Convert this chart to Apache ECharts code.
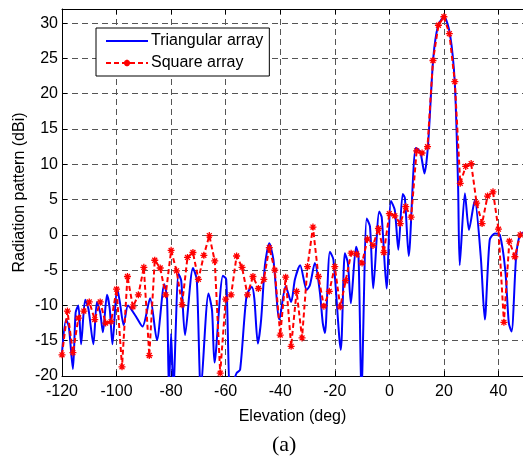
<!DOCTYPE html>
<html>
<head>
<meta charset="utf-8">
<script src="https://cdn.jsdelivr.net/npm/echarts@6/dist/echarts.min.js"></script>
<style>
  html, body { margin: 0; padding: 0; background: #fff; }
  #chart { width: 523px; height: 459px; }
</style>
</head>
<body>
<div id="chart"></div>
<script>
// square array, sampled every 2 deg
var sqAngles = [-120, -118, -116, -114, -112, -110, -108, -106, -104, -102,
  -100, -98, -96, -94, -92, -90, -88, -86, -84, -82,
  -80, -78, -76, -74, -72, -70, -68, -66, -64, -62,
  -60, -58, -56, -54, -52, -50, -48, -46, -44, -42,
  -40, -38, -36, -34, -32, -30, -28, -26, -24, -22,
  -20, -18, -16, -14, -12, -10, -8, -6, -4, -2,
  0, 2, 4, 6, 8, 10, 12, 14, 16, 18,
  20, 22, 24, 26, 28, 30, 32, 34, 36, 38,
  40, 42, 44, 46, 48, 50];
var sqValues = [-17, -10.8, -16.7, -11.8, -10.8, -9.5, -12, -9.5, -12.5, -12.3,
  -7.7, -18.7, -5.9, -10.2, -8.5, -4.6, -17.1, -3.6, -4.7, -8.5,
  -2.2, -5.1, -9.9, -3.2, -2.5, -6.3, -2.9, -0.1, -3.7, -19.6,
  -9.1, -8.5, -3, -4.6, -8.5, -5.9, -7.6, -6.3, -1.8, -5,
  -14.2, -6, -15.8, -8, -14.6, -4.5, 1.1, -5.9, -10.1, -8,
  -4.5, -10.2, -6.5, -2.6, -2.7, -4, -0.6, -1.5, 0.9, -2.5,
  3, 2.7, 1.6, 4, 2.5, 11.9, 11.6, 12.5, 24.7, 29.7,
  30.9, 28.5, 21.7, 7.3, 9.7, 10.1, 4.5, 1.6, 5.5, 6.1,
  0.8, -12.4, -0.9, -3.1, 0, -0.8];

// triangular array, read at its turning points
var triAngles = [-120, -118.5, -117.5, -116, -115, -114, -113, -111.5, -110.3, -108.5,
  -107.2, -106, -105, -103.5, -102.5, -101.5, -99.8, -98.8, -97.4, -95.8,
  -93, -90.5, -87.7, -85.2, -82.5, -81.5, -80.8, -80, -79.2, -77.3,
  -76.3, -74.9, -72, -70.6, -69.1, -66.3, -65, -64.1, -61, -59.8,
  -58.3, -56, -54.7, -52.3, -50.4, -49.5, -48.2, -47, -45.6, -44,
  -42.5, -40.3, -38, -36, -34.6, -32.7, -30.3, -29.1, -27.3, -25.5,
  -24.4, -23.6, -21.8, -20.5, -17.8, -16.3, -15.2, -14.1, -12.2, -11.3,
  -10.2, -8.3, -7.1, -5.9, -3.7, -2.8, -1, 0.6, 2, 3.3,
  4.9, 5.7, 7.1, 9.7, 11.3, 12.9, 14.2, 16.1, 17.9, 20.1,
  22.2, 24, 25.2, 25.8, 27.7, 29.2, 31.3, 33.5, 35, 36.8,
  38.7, 40.5, 42.5, 43.8, 44.8, 46.5, 47.9, 50];
var triValues = [-16.7, -12, -13, -19, -11, -10, -15.5, -9.2, -10.5, -15.5,
  -9.5, -11, -13.8, -8.5, -10.5, -15.5, -7.5, -9.5, -12.8, -10,
  -11.5, -13, -9, -14.9, -7, -9, -22, -14, -22, -5.5,
  -6.5, -14.2, -4.7, -6.3, -22, -8.3, -10.7, -18.1, -5.8, -6.3,
  -22, -19.6, -19.1, -8.5, -7.4, -9, -15.4, -12, -4.3, -1.2,
  -3.5, -12, -7.3, -9.5, -6.3, -4.3, -7.8, -7.1, -4, -8,
  -12.5, -13.9, -2.4, -3.5, -16.3, -2.6, -4, -9.7, -1.7, -3,
  -22, 2.3, 1.2, -7.6, 3.3, 2.5, -7.6, 4.8, 3.5, -2.1,
  5.8, 5.2, -3, 12.3, 11.8, 8.7, 12.8, 25, 29.7, 30.9,
  28.5, 21.5, 7, -4.3, 5.9, 0.7, 4.9, -3, -12, -0.7,
  0.2, 0, -5, -12.5, -13.7, -3, 0, 0.5];

var seriesNames = ['Triangular array', 'Square array'];
// the picture is cut off just short of 50 deg on the right
var xTicks = { min: -120, max: 49, step: 20 };
var yTicks = { min: -20, max: 32, step: 5 };

function pairs(xs, ys) {
  return xs.map(function (x, i) { return [x, ys[i]]; });
}

var font = 'Liberation Sans, Arial, sans-serif';
var dash = '#555';
var asterisk = 'path://M0,-1L0,1M-1,0L1,0M-0.7,-0.7L0.7,0.7M-0.7,0.7L0.7,-0.7';

var chart = echarts.init(document.getElementById('chart'));
chart.setOption({
  animation: false,
  backgroundColor: '#fff',
  textStyle: { fontFamily: font },
  graphic: [{
    type: 'text', left: 272, top: 434,
    style: { text: '(a)', font: '22px "Liberation Serif", "Times New Roman", serif', fill: '#000' }
  }],
  grid: { left: 62, top: 9, right: 0, bottom: 83, outerBoundsMode: 'none', containLabel: false },
  legend: {
    left: 96, top: 28, orient: 'vertical',
    data: [{ name: seriesNames[0], itemStyle: { opacity: 0 } }, seriesNames[1]],
    itemWidth: 42, itemHeight: 8, itemGap: 6,
    padding: [5, 6, 5, 9],
    backgroundColor: '#fff', borderColor: '#000', borderWidth: 1, borderRadius: 0,
    textStyle: { fontSize: 16, color: '#000', fontFamily: font, padding: [0, 0, 0, -2] }
  },
  xAxis: [{
    type: 'value', position: 'bottom',
    min: xTicks.min, max: xTicks.max, interval: xTicks.step,
    name: 'Elevation (deg)', nameLocation: 'middle', nameGap: 33,
    nameTextStyle: { fontSize: 16, color: '#000', fontFamily: font },
    axisLine: { onZero: false, lineStyle: { color: '#000', width: 1 } },
    axisTick: { inside: true, length: 5, lineStyle: { color: '#000' } },
    axisLabel: { fontSize: 16, color: '#000', margin: 8, fontFamily: font,
      formatter: function (v) { return v % 20 === 0 ? v : ''; } },
    splitLine: { show: true, showMaxLine: false, lineStyle: { color: dash, type: [6, 4], width: 1 } }
  }, {
    type: 'value', position: 'top',
    min: xTicks.min, max: xTicks.max, interval: xTicks.step,
    axisLine: { onZero: false, lineStyle: { color: '#000', width: 1 } },
    axisTick: { inside: true, length: 5, lineStyle: { color: '#000' } },
    axisLabel: { show: false },
    splitLine: { show: false }
  }],
  yAxis: {
    type: 'value',
    min: yTicks.min, max: yTicks.max, interval: yTicks.step,
    name: 'Radiation pattern (dBi)', nameLocation: 'middle', nameGap: 34,
    nameMoveOverlap: false,
    nameTextStyle: { fontSize: 16, color: '#000', fontFamily: font },
    axisLine: { show: true, onZero: false, lineStyle: { color: '#000', width: 1 } },
    axisTick: { show: true, inside: true, length: 5, lineStyle: { color: '#000' } },
    axisLabel: { fontSize: 16, color: '#000', margin: 4, fontFamily: font,
      formatter: function (v) { return v % 5 === 0 ? v : ''; } },
    splitLine: { show: true, lineStyle: { color: dash, type: [6, 4], width: 1 } }
  },
  series: [{
    name: seriesNames[0],
    type: 'line',
    data: pairs(triAngles, triValues),
    showSymbol: false, symbol: 'none',
    smooth: 0.25,
    clip: true,
    z: 2,
    itemStyle: { color: '#0000ff' },
    lineStyle: { color: '#0000ff', width: 2 }
  }, {
    name: seriesNames[1],
    type: 'line',
    data: pairs(sqAngles, sqValues),
    symbol: asterisk, symbolSize: 7,
    clip: true,
    z: 3,
    itemStyle: { color: 'rgba(0,0,0,0)', borderColor: '#ff0000', borderWidth: 1.3 },
    lineStyle: { color: '#ff0000', width: 2, type: [5, 3] }
  }]
});
</script>
</body>
</html>
